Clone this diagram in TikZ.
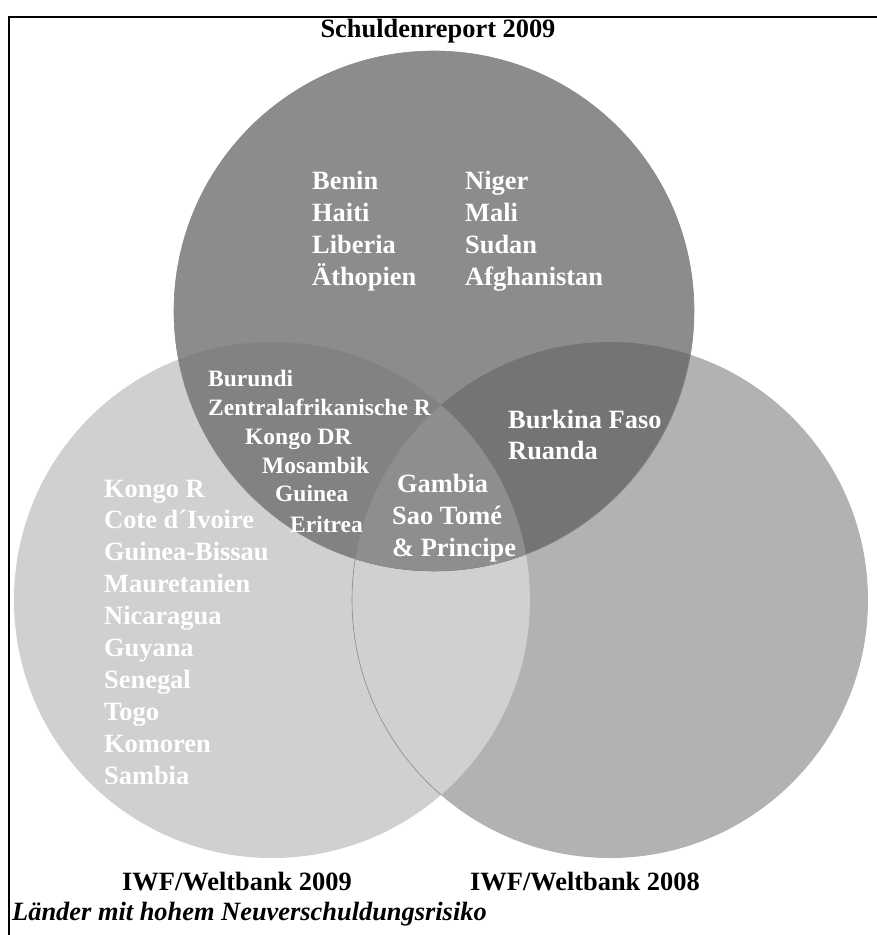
\documentclass[tikz,border=0pt]{standalone}
\usepackage{fontspec}
\setmainfont{Liberation Serif}
\definecolor{setTop}{HTML}{8C8C8C}
\definecolor{setLeft}{HTML}{D0D0D0}
\definecolor{setRight}{HTML}{B2B2B2}
\definecolor{setTopRight}{HTML}{747474}
\definecolor{setTopLeft}{HTML}{828282}
\definecolor{setAll}{HTML}{8E8E8E}
\definecolor{rimline}{HTML}{8A8A8A}

\begin{document}
\begin{tikzpicture}[x=1pt,y=-1pt,
country/.style={text=white,font=\fontsize{26.4}{32}\selectfont\bfseries,anchor=base west,inner sep=0pt},
smallcountry/.style={country,font=\fontsize{23.5}{29}\selectfont\bfseries},
setname/.style={font=\fontsize{26.4}{32}\selectfont\bfseries,anchor=base,inner sep=0pt},
rim/.style={draw=rimline,line width=.6pt}]
\useasboundingbox (0,0) rectangle (877,935);
\def\topset{(434,311) circle[radius=260pt]}
\def\leftset{(272,600) circle[radius=258pt]}
\def\rightset{(610,600) circle[radius=258pt]}
% frame
\draw[line width=2pt] (877,17) -- (9,17) -- (9,935);
% the three sets
\fill[setRight] \rightset;
\fill[setLeft] \leftset;
\begin{scope}
\clip \leftset;
\draw[rim] \rightset;
\end{scope}
\fill[setTop] \topset;
\begin{scope}
\clip \topset;
\fill[setTopRight] \rightset;
\fill[setTopLeft] \leftset;
\clip \leftset;
\fill[setAll] \rightset;
\end{scope}
\draw[rim] \topset;
% set names
\node[setname] (report) at (438,37) {Schuldenreport 2009};
\node[setname] (iwf09) at (237,890) {IWF/Weltbank 2009};
\node[setname] (iwf08) at (585,890) {IWF/Weltbank 2008};
\node[setname,anchor=base west,font=\fontsize{26.4}{32}\selectfont\bfseries\itshape] (risk) at (12,920) {Länder mit hohem Neuverschuldungsrisiko};
% countries
\foreach \name [count=\i from 0] in {Benin,Haiti,Liberia,Äthopien}
  \node[country] (topa\i) at (312,{189+32*\i}) {\name};
\foreach \name [count=\i from 0] in {Niger,Mali,Sudan,Afghanistan}
  \node[country] (topb\i) at (465,{189+32*\i}) {\name};
\foreach \px/\py/\name [count=\i] in {208/386/Burundi,208/415/Zentralafrikanische R,245/444/Kongo DR,262/473/Mosambik,275/501/Guinea,290/532/Eritrea}
  \node[smallcountry] (topleft\i) at (\px,\py) {\name};
\foreach \px/\py/\name [count=\i] in {397/492/Gambia,392/524/Sao Tomé,392/556/\& Principe}
  \node[country] (all\i) at (\px,\py) {\name};
\node[country] (topright1) at (508,428) {Burkina Faso};
\node[country] (topright2) at (508,459) {Ruanda};
\foreach \name [count=\i from 0] in {Kongo R,Cote d´Ivoire,Guinea-Bissau,Mauretanien,Nicaragua,Guyana,Senegal,Togo,Komoren,Sambia}
  \node[country] (left\i) at (104,{497+31.9*\i}) {\name};
\end{tikzpicture}
\end{document}
